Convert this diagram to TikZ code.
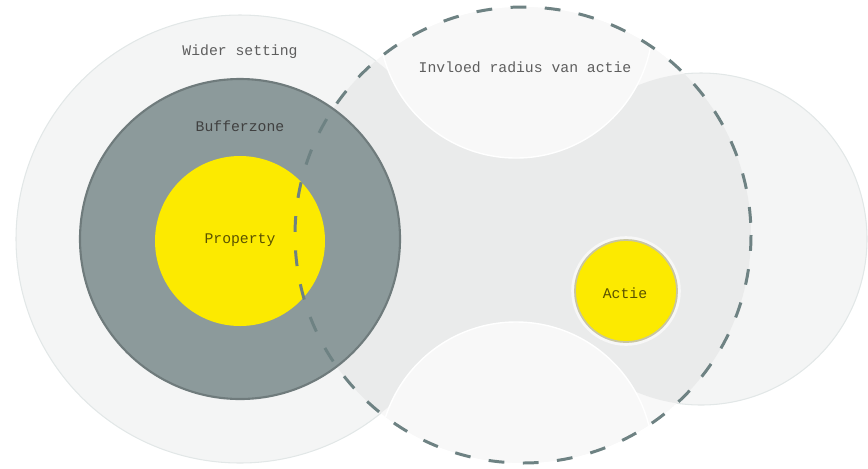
\documentclass[tikz,border=0pt]{standalone}
\usepackage{fontspec}
\setmonofont{Liberation Mono}
\definecolor{widergray}{HTML}{F4F5F5}
\definecolor{rimgray}{HTML}{E2E7E7}
\definecolor{insidegray}{HTML}{F8F8F8}
\definecolor{neckgray}{HTML}{EAEBEB}
\definecolor{buffergray}{HTML}{8C9A9B}
\definecolor{bufferrim}{HTML}{6F7B7C}
\definecolor{propyellow}{HTML}{FCEA00}
\definecolor{dashgray}{HTML}{6E8283}
\definecolor{actierim}{HTML}{C9C6A0}
\definecolor{labelgray}{HTML}{5E5E5E}
\definecolor{propertytext}{HTML}{5A5200}

\begin{document}
\begin{tikzpicture}[x=0.02cm,y=-0.02cm,
    lbl/.style={font=\ttfamily\fontsize{8.4}{10}\selectfont,text=labelgray},
    rim/.style={draw=rimgray,line width=0.6pt}]
  \useasboundingbox (0,0) rectangle (868,468);
  % wider setting and the far side of the actie
  \filldraw[fill=widergray,rim] (240,239) circle[radius=224];
  \filldraw[fill=widergray,rim] (701,239) circle[radius=166];
  % inside the influence radius
  \begin{scope}
    \clip (523,235) circle[radius=228];
    \fill[insidegray] (523,235) circle[radius=228];
    \fill[neckgray] (240,239) circle[radius=224];
    \fill[neckgray] (701,239) circle[radius=166];
    \fill[neckgray] (389,71) -- (637,86) -- (637,392) -- (389,407) -- cycle;
    \foreach \y in {21,459}
      \filldraw[fill=insidegray,draw=white,line width=0.8pt] (516,\y) circle[radius=137];
  \end{scope}
  % bufferzone and property
  \filldraw[fill=buffergray,draw=bufferrim,line width=1.2pt] (240,239) circle[radius=160];
  \fill[propyellow] (240,241) circle[radius=85];
  \draw[dashgray,line width=1.7pt,dash pattern=on 9pt off 10.5pt] (523,235) circle[radius=228];
  % actie
  \draw[white!60!neckgray,line width=1.5pt] (626,291) circle[radius=53.5];
  \filldraw[fill=propyellow,draw=actierim,line width=1pt] (626,291) circle[radius=51];
  \node[lbl] (wider) at (240,52) {Wider setting};
  \node[lbl] (radius) at (525,67) {Invloed radius van actie};
  \node[lbl,text=black!75] (buffer) at (240,126) {Bufferzone};
  \node[lbl,text=propertytext] (property) at (240,240) {Property};
  \node[lbl,text=propertytext] (actie) at (625,293) {Actie};
\end{tikzpicture}
\end{document}
